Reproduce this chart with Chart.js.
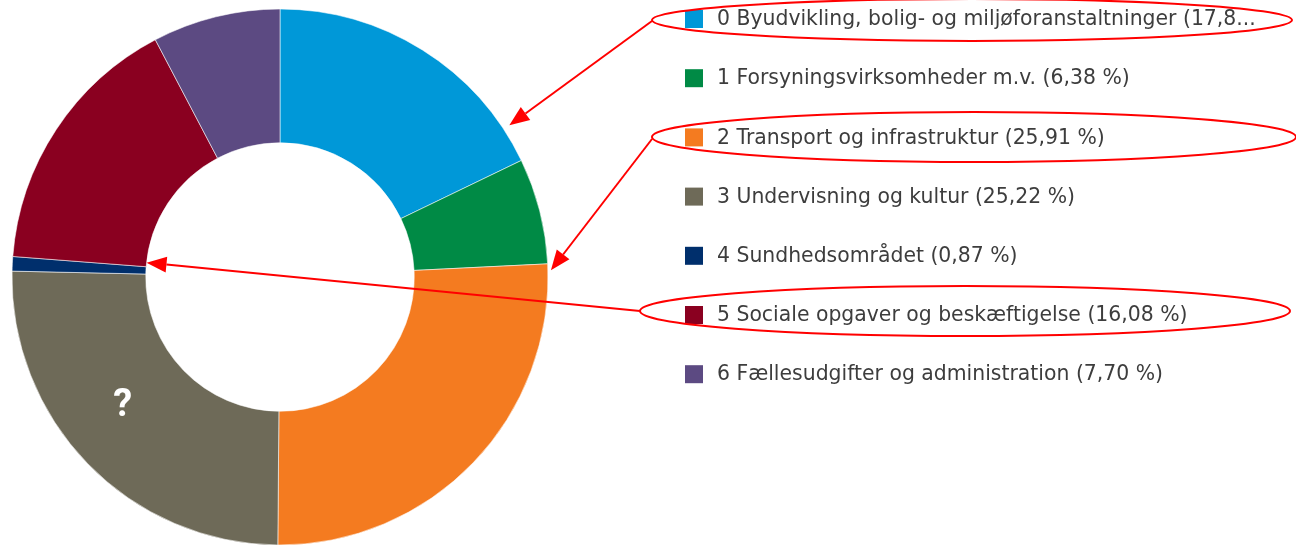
<!DOCTYPE html>
<html>
<head>
<meta charset="utf-8">
<script src="https://cdn.jsdelivr.net/npm/chart.js@4"></script>
<style>
  html, body { margin: 0; padding: 0; background: #ffffff; }
  #wrap { width: 1296px; height: 545px; position: relative; }
</style>
</head>
<body>
<div id="wrap"><canvas id="c" width="1296" height="545"></canvas></div>
<script>
// ---- Data ----
const categories = [
  "0 Byudvikling, bolig- og miljøforanstaltninger",
  "1 Forsyningsvirksomheder m.v.",
  "2 Transport og infrastruktur",
  "3 Undervisning og kultur",
  "4 Sundhedsområdet",
  "5 Sociale opgaver og beskæftigelse",
  "6 Fællesudgifter og administration"
];
const shares = [17.84, 6.38, 25.91, 25.22, 0.87, 16.08, 7.70];
const legendTexts = [
  "0 Byudvikling, bolig- og miljøforanstaltninger (17,8...",
  "1 Forsyningsvirksomheder m.v. (6,38 %)",
  "2 Transport og infrastruktur (25,91 %)",
  "3 Undervisning og kultur (25,22 %)",
  "4 Sundhedsområdet (0,87 %)",
  "5 Sociale opgaver og beskæftigelse (16,08 %)",
  "6 Fællesudgifter og administration (7,70 %)"
];
const colors = ["#0098D8", "#008A45", "#F47B20", "#6E6A58", "#002F6C", "#8A0020", "#5C4A82"];
const segmentMark = "?";

// ---- Annotation plugin (legend, ellipses, arrows, mark) ----
const overlay = {
  id: 'overlay',
  afterDraw(chart) {
    const ctx = chart.ctx;
    const labels = chart.data.labels;
    const ds = chart.data.datasets[0];
    const x0 = 685, y0 = 19, step = 59.2, box = 18;
    ctx.save();
    ctx.font = '20.4px "DejaVu Sans", sans-serif';
    ctx.textBaseline = 'middle';
    ctx.textAlign = 'left';
    for (let i = 0; i < labels.length; i++) {
      const y = y0 + i * step;
      ctx.fillStyle = ds.backgroundColor[i];
      ctx.fillRect(x0, y - box / 2, box, box);
      ctx.fillStyle = '#3d3d3d';
      ctx.fillText(legendTexts[i], x0 + 32, y + 1);
    }

    // ellipses around highlighted legend rows
    const ell = [
      {cx: 972, cy: 20, rx: 320, ry: 21},
      {cx: 974, cy: 137, rx: 322, ry: 25},
      {cx: 965, cy: 311, rx: 325, ry: 25}
    ];
    ctx.strokeStyle = '#FF0000';
    ctx.lineWidth = 2;
    ell.forEach(e => {
      ctx.beginPath();
      ctx.ellipse(e.cx, e.cy, e.rx, e.ry, 0, 0, Math.PI * 2);
      ctx.stroke();
    });

    // arrows from ellipses to the doughnut
    const meta = chart.getDatasetMeta(0);
    const arc0 = meta.data[0];
    const cx = arc0.x, cy = arc0.y, R = arc0.outerRadius, r = arc0.innerRadius;
    function ptAt(idx, frac, rad) {
      const a = meta.data[idx];
      const ang = a.startAngle + (a.endAngle - a.startAngle) * frac;
      return [cx + Math.cos(ang) * rad, cy + Math.sin(ang) * rad];
    }
    const arrows = [
      {from: [652, 21], to: ptAt(0, 0.88, R + 7)},
      {from: [652, 139], to: ptAt(2, 0.015, R + 3)},
      {from: [640, 311], to: ptAt(5, 0.03, r)}
    ];
    ctx.fillStyle = '#FF0000';
    arrows.forEach(a => {
      const [x1, y1] = a.from, [x2, y2] = a.to;
      const ang = Math.atan2(y2 - y1, x2 - x1);
      const hl = 20, hw = 8;
      const bx = x2 - Math.cos(ang) * hl, by = y2 - Math.sin(ang) * hl;
      ctx.beginPath();
      ctx.moveTo(x1, y1);
      ctx.lineTo(bx, by);
      ctx.stroke();
      ctx.beginPath();
      ctx.moveTo(x2, y2);
      ctx.lineTo(bx + Math.sin(ang) * hw, by - Math.cos(ang) * hw);
      ctx.lineTo(bx - Math.sin(ang) * hw, by + Math.cos(ang) * hw);
      ctx.closePath();
      ctx.fill();
    });

    // question mark in segment 3
    const m = ptAt(3, 0.5, (R + r) / 2);
    ctx.fillStyle = '#ffffff';
    ctx.font = 'bold 38px Roboto, "DejaVu Sans", sans-serif';
    ctx.textAlign = 'center';
    ctx.textBaseline = 'middle';
    ctx.fillText(segmentMark, m[0] - 13, m[1] - 11);
    ctx.restore();
  }
};

new Chart(document.getElementById('c'), {
  type: 'doughnut',
  data: {
    labels: categories,
    datasets: [{
      data: shares,
      backgroundColor: colors,
      borderColor: 'rgba(255,255,255,0.55)',
      borderWidth: 1,
      hoverOffset: 0
    }]
  },
  options: {
    responsive: false,
    animation: false,
    events: [],
    radius: 268,
    cutout: 134,
    layout: { padding: { left: 12, right: 748, top: 9, bottom: 0 } },
    plugins: {
      legend: { display: false },
      tooltip: { enabled: false }
    }
  },
  plugins: [overlay]
});
</script>
</body>
</html>
